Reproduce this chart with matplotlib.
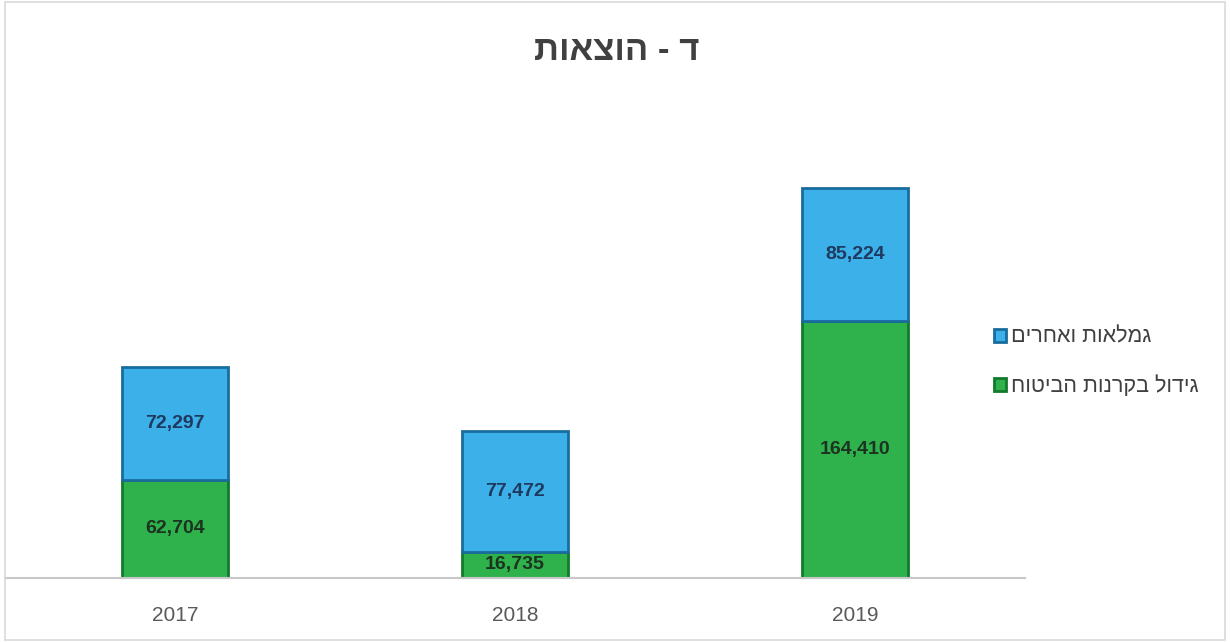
import numpy as np
import matplotlib.pyplot as plt
from matplotlib.patches import Rectangle

# data
years = ["2017", "2018", "2019"]
insurance_growth = [62704, 16735, 164410]   # green, bottom
pensions_other = [72297, 77472, 85224]      # blue, top
series_names = ["גמלאות ואחרים", "גידול בקרנות הביטוח"]
title = "ד - הוצאות"


def rtl(s):
    # matplotlib has no bidi support, so flip to visual order
    return s[::-1]


plt.rcParams['font.family'] = ['Liberation Sans', 'DejaVu Sans']

fig = plt.figure(figsize=(12.3, 6.42), dpi=100)
fig.patch.set_facecolor('white')
fig.patches.append(Rectangle((0.004, 0.003), 0.992, 0.994, transform=fig.transFigure,
                             fill=False, edgecolor='#d9d9d9', linewidth=1.2))

ax = fig.add_axes([5 / 1230, 64 / 642, 1020 / 1230, 469 / 642])
x = np.arange(len(years))
w = 0.31

green, green_edge = '#2fb24c', '#127a2c'
blue, blue_edge = '#3cb0e8', '#1a6c9e'

b1 = ax.bar(x, insurance_growth, w, color=green, edgecolor=green_edge, linewidth=2,
            label=rtl(series_names[1]))
b2 = ax.bar(x, pensions_other, w, bottom=insurance_growth, color=blue, edgecolor=blue_edge,
            linewidth=2, label=rtl(series_names[0]))

for i in range(len(years)):
    g = insurance_growth[i]
    p = pensions_other[i]
    ax.text(x[i], g / 2, f"{g:,}", ha='center', va='center', fontsize=14,
            fontweight='bold', color='#1b3320')
    ax.text(x[i], g + p / 2, f"{p:,}", ha='center', va='center', fontsize=14,
            fontweight='bold', color='#1f3a60')

ax.set_xlim(-0.5, 2.5)
ax.set_ylim(0, 300000)
ax.set_xticks(x)
ax.set_xticklabels(years, fontsize=15, color='#595959')
ax.tick_params(axis='x', length=0, pad=20)
ax.set_yticks([])
for s in ['top', 'right', 'left']:
    ax.spines[s].set_visible(False)
ax.spines['bottom'].set_color('#c8c8c8')
ax.spines['bottom'].set_linewidth(1.5)
ax.set_zorder(1)

fig.text(617 / 1230, 1 - 50 / 642, rtl(title), ha='center', va='center', fontsize=25,
         fontweight='bold', color='#404040')

fig.legend(handles=[b2, b1], loc='center left', bbox_to_anchor=(975 / 1230, 1 - 362 / 642),
           frameon=False, fontsize=15.5, handlelength=0.55, handleheight=0.55,
           handletextpad=0.2, labelspacing=1.3, labelcolor='#404040')

fig.savefig('out.png', dpi=100)
